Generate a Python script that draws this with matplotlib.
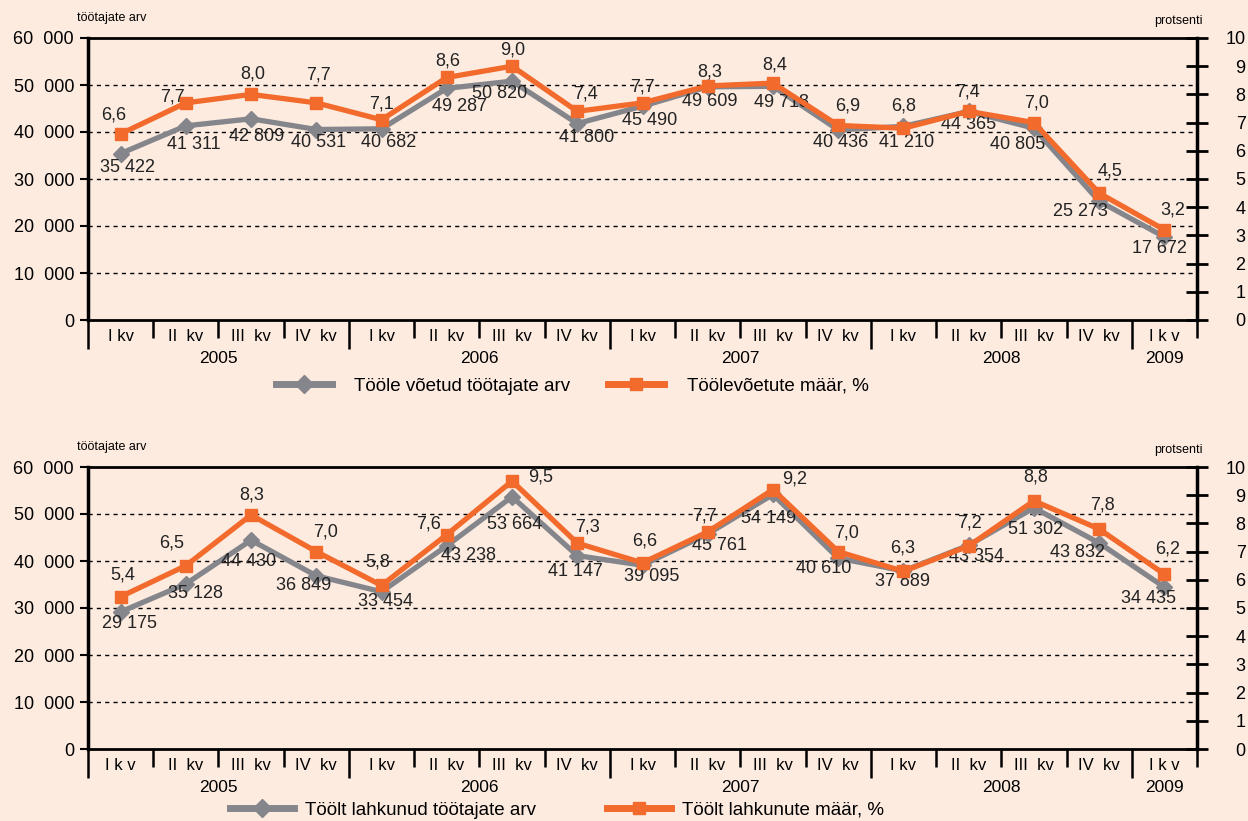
import matplotlib.pyplot as plt
from matplotlib.lines import Line2D

plt.rcParams['font.family'] = ['Liberation Sans', 'DejaVu Sans']

# quarter labels and years
cats_top = ['I kv', 'II  kv', 'III  kv', 'IV  kv'] * 4 + ['I k v']
cats_bottom = ['I k v', 'II  kv', 'III  kv', 'IV  kv'] + ['I kv', 'II  kv', 'III  kv', 'IV  kv'] * 3 + ['I k v']
years = ['2005', '2006', '2007', '2008', '2009']
year_spans = [(0, 4), (4, 8), (8, 12), (12, 16), (16, 17)]

# top panel: hired
hired = [35422, 41311, 42809, 40531, 40682, 49287, 50820, 41800, 45490,
         49609, 49718, 40436, 41210, 44365, 40805, 25273, 17672]
hired_rate = [6.6, 7.7, 8.0, 7.7, 7.1, 8.6, 9.0, 7.4, 7.7,
              8.3, 8.4, 6.9, 6.8, 7.4, 7.0, 4.5, 3.2]

# bottom panel: left the job
quit_cnt = [29175, 35128, 44430, 36849, 33454, 43238, 53664, 41147, 39095,
            45761, 54149, 40610, 37889, 43354, 51302, 43832, 34435]
quit_rate = [5.4, 6.5, 8.3, 7.0, 5.8, 7.6, 9.5, 7.3, 6.6,
             7.7, 9.2, 7.0, 6.3, 7.2, 8.8, 7.8, 6.2]

# label offsets in pixels (style only)
off_hired = [(7, -14), (8, -19), (6, -18), (2, -13), (7, -14), (13, -18), (-12, -12), (9, -14), (7, -14),
             (2, -15), (9, -16), (2, -13), (3, -16), (0, -13), (-16, -16), (-19, -10), (-5, -12)]
off_hrate = [(-7, 19), (-13, 6), (2, 20), (2, 28), (0, 16), (1, 16), (1, 16), (8, 17), (0, 16),
             (2, 14), (2, 18), (9, 19), (0, 22), (-1, 19), (3, 20), (11, 22), (8, 20)]
off_quit = [(9, -12), (10, -10), (-3, -21), (-13, -10), (4, -10), (22, -10), (3, -28), (-2, -16), (9, -11),
            (12, -12), (-4, -24), (-15, -10), (-1, -11), (8, -11), (2, -22), (-22, -10), (-16, -11)]
off_qrate = [(2, 22), (-14, 23), (1, 20), (9, 20), (-4, 23), (-18, 11), (29, 4), (10, 16), (2, 22),
             (-3, 16), (22, 11), (8, 19), (-1, 23), (1, 23), (2, 24), (3, 24), (3, 25)]

BG = '#fdebe0'
ORANGE = '#f26a2c'
GRAY = '#85868b'

fig = plt.figure(figsize=(12.48, 8.21), dpi=100)
fig.patch.set_facecolor(BG)


def panel(rect, counts, rates, cats, off_c, off_r, labels, leg_xy, leg_kw):
    ax = fig.add_axes(rect)
    ax.set_facecolor(BG)
    n = len(counts)
    xs = [i + 0.5 for i in range(n)]
    ax.set_xlim(0, n)
    ax.set_ylim(0, 60000)
    ax.set_yticks(range(0, 60001, 10000))
    ax.set_yticklabels(['0'] + ['%d  000' % (v // 1000) for v in range(10000, 60001, 10000)])
    ax.tick_params(axis='y', direction='out', length=6, width=1.5, labelsize=13, pad=4)
    for v in range(10000, 60000, 10000):
        ax.axhline(v, color='black', lw=1, ls=(0, (3, 3)), zorder=1)
    ax.spines['left'].set_linewidth(2.5)
    ax.spines['top'].set_linewidth(2)
    ax.spines['bottom'].set_linewidth(2)
    ax.spines['right'].set_visible(False)

    ax.set_xticks([0, 4, 8, 12, 16])
    ax.set_xticks([i for i in range(n + 1) if i not in (0, 4, 8, 12, 16)], minor=True)
    ax.tick_params(axis='x', which='major', direction='out', length=21, width=1.8, labelbottom=False)
    ax.tick_params(axis='x', which='minor', direction='out', length=13, width=1.8, labelbottom=False)

    for x, c in zip(xs, cats):
        ax.annotate(c, xy=(x, 0), xycoords=('data', 'axes fraction'), xytext=(0, -16),
                    textcoords='offset pixels', ha='center', va='center', fontsize=12)
    for yname, (a, b) in zip(years, year_spans):
        ax.annotate(yname, xy=((a + b) / 2, 0), xycoords=('data', 'axes fraction'), xytext=(0, -38),
                    textcoords='offset pixels', ha='center', va='center', fontsize=12.5)

    ax.text(-0.01, 1.072, 'töötajate arv', transform=ax.transAxes, fontsize=9, ha='left', va='center')
    ax.text(1.005, 1.06, 'protsenti', transform=ax.transAxes, fontsize=9, ha='right', va='center')

    ax.plot(xs, counts, color=GRAY, lw=3.8, marker='D', ms=8, zorder=3)
    for x, v, o in zip(xs, counts, off_c):
        ax.annotate('{:,}'.format(v).replace(',', ' '), xy=(x, v), xytext=o, textcoords='offset pixels',
                    ha='center', va='center', fontsize=13, color='#222222', zorder=5)

    ax2 = ax.twinx()
    ax2.set_ylim(0, 10)
    ax2.set_yticks(range(0, 11))
    for s in ['left', 'top', 'bottom']:
        ax2.spines[s].set_visible(False)
    ax2.spines['right'].set_linewidth(2.5)
    ax2.tick_params(axis='y', direction='inout', length=16, width=2, labelsize=13, pad=27)
    for t in ax2.get_yticklabels():
        t.set_horizontalalignment('right')
    ax2.plot(xs, rates, color=ORANGE, lw=3.8, marker='s', ms=9, zorder=4)
    for x, v, o in zip(xs, rates, off_r):
        ax2.annotate(('%.1f' % v).replace('.', ','), xy=(x, v), xytext=o, textcoords='offset pixels',
                     ha='center', va='center', fontsize=13, color='#222222')

    handles = [Line2D([], [], color=GRAY, lw=5, marker='D', ms=9),
               Line2D([], [], color=ORANGE, lw=5, marker='s', ms=9)]
    fig.legend(handles, labels, loc='center', bbox_to_anchor=leg_xy, ncol=2, frameon=False,
               fontsize=13.5, numpoints=1, **leg_kw)


panel([88 / 1248, (821 - 320) / 821, 1109 / 1248, 282 / 821], hired, hired_rate, cats_top,
      off_hired, off_hrate, ['Tööle võetud töötajate arv', 'Töölevõetute määr, %'],
      (572 / 1248, 1 - 386 / 821), dict(handlelength=3.0, handletextpad=1.2, columnspacing=2.0))
panel([88 / 1248, (821 - 749) / 821, 1109 / 1248, 282 / 821], quit_cnt, quit_rate, cats_bottom,
      off_quit, off_qrate, ['Töölt lahkunud töötajate arv', 'Töölt lahkunute määr, %'],
      (557 / 1248, 1 - 810 / 821), dict(handlelength=3.4, handletextpad=0.6, columnspacing=3.8))

fig.savefig('out.png', dpi=100, facecolor=BG)
